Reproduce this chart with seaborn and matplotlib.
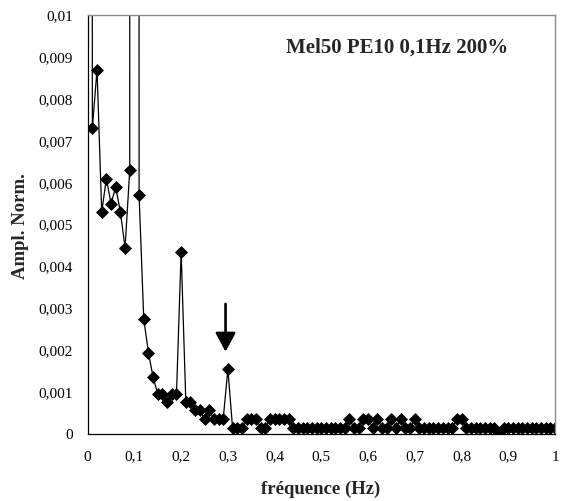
import numpy as np
import pandas as pd
import matplotlib
matplotlib.use("Agg")
import matplotlib.pyplot as plt
import seaborn as sns

# Normalised amplitude spectrum, 0 to 1 Hz in 0.01 Hz steps
freq_step = 0.01
n_points = 101
amp_milli = [
    200.0, 7.3, 8.7, 5.3, 6.1, 5.5, 5.9, 5.3, 4.45, 6.3,          # 0.00 - 0.09
    1000.0, 5.7, 2.75, 1.95, 1.36, 0.96, 0.96, 0.78, 0.96, 0.96,  # 0.10 - 0.19
    4.35, 0.78, 0.78, 0.58, 0.58, 0.37, 0.58, 0.37, 0.37, 0.37,   # 0.20 - 0.29
    1.55, 0.16, 0.16, 0.16, 0.37, 0.37, 0.37, 0.16, 0.16, 0.37,   # 0.30 - 0.39
    0.37, 0.37, 0.37, 0.37, 0.16, 0.16, 0.16, 0.16, 0.16, 0.16,   # 0.40 - 0.49
    0.16, 0.16, 0.16, 0.16, 0.16, 0.16, 0.37, 0.16, 0.16, 0.37,   # 0.50 - 0.59
    0.37, 0.16, 0.37, 0.16, 0.16, 0.37, 0.16, 0.37, 0.16, 0.16,   # 0.60 - 0.69
    0.37, 0.16, 0.16, 0.16, 0.16, 0.16, 0.16, 0.16, 0.16, 0.37,   # 0.70 - 0.79
    0.37, 0.16, 0.16, 0.16, 0.16, 0.16, 0.16, 0.16, 0.03, 0.16,   # 0.80 - 0.89
    0.16, 0.16, 0.16, 0.16, 0.16, 0.16, 0.16, 0.16, 0.16, 0.16,   # 0.90 - 0.99
    0.16,                                                         # 1.00
]
x_ticks = [0, 0.1, 0.2, 0.3, 0.4, 0.5, 0.6, 0.7, 0.8, 0.9, 1.0]
x_tick_labels = ["0", "0,1", "0,2", "0,3", "0,4", "0,5", "0,6", "0,7", "0,8", "0,9", "1"]
y_ticks = [0, 0.001, 0.002, 0.003, 0.004, 0.005, 0.006, 0.007, 0.008, 0.009, 0.01]
y_tick_labels = ["0", "0,001", "0,002", "0,003", "0,004", "0,005",
                 "0,006", "0,007", "0,008", "0,009", "0,01"]
title_text = "Mel50 PE10 0,1Hz 200%"
x_label = "fréquence (Hz)"
y_label = "Ampl. Norm."
arrow_freq = 0.295
arrow_top, arrow_tip = 0.00311, 0.00197

df = pd.DataFrame({
    "freq": np.round(np.arange(n_points) * freq_step, 2),
    "amp": np.array(amp_milli) / 1000.0,
})

sns.set_style("white")
plt.rcParams["font.family"] = ["Liberation Serif", "DejaVu Serif"]

fig = plt.figure(figsize=(5.61, 5.01), dpi=100)
ax = fig.add_axes([0.1563, 0.1331, 0.9893 - 0.1563, 0.970 - 0.1331])

sns.lineplot(data=df, x="freq", y="amp", ax=ax, color="black", linewidth=0.9,
             marker="D", markersize=5.8, markeredgecolor="black",
             markerfacecolor="black", markeredgewidth=0.5)

ax.set_xlim(0, 1)
ax.set_ylim(0, 0.01)
ax.set_xticks(x_ticks)
ax.set_xticklabels(x_tick_labels)
ax.set_yticks(y_ticks)
ax.set_yticklabels(y_tick_labels)
ax.set_xlabel("")
ax.set_ylabel("")

ax.tick_params(axis="both", direction="out", colors="black", labelsize=11, width=0.8)
ax.tick_params(axis="y", length=4.3, pad=6.5)
ax.tick_params(axis="x", length=3.2, pad=8.5)

for side in ("left", "bottom"):
    ax.spines[side].set_color("black")
    ax.spines[side].set_linewidth(0.9)
for side in ("top", "right"):
    ax.spines[side].set_visible(True)
    ax.spines[side].set_color("#8c8c8c")
    ax.spines[side].set_linewidth(1.0)

ax.annotate("", xy=(arrow_freq, arrow_tip), xytext=(arrow_freq, arrow_top),
            arrowprops=dict(arrowstyle="-|>,head_length=1.15,head_width=0.62",
                            color="black", lw=1.9, shrinkA=0, shrinkB=0))

fig.text(0.7077, 0.906, title_text, ha="center", va="center",
         fontsize=15, fontweight="bold")
fig.text(0.572, 0.024, x_label, ha="center", va="center",
         fontsize=13.5, fontweight="bold")
fig.text(0.0357, 0.549, y_label, ha="center", va="center", rotation=90,
         fontsize=13.5, fontweight="bold")

fig.savefig("out.png", dpi=100, facecolor="white")
